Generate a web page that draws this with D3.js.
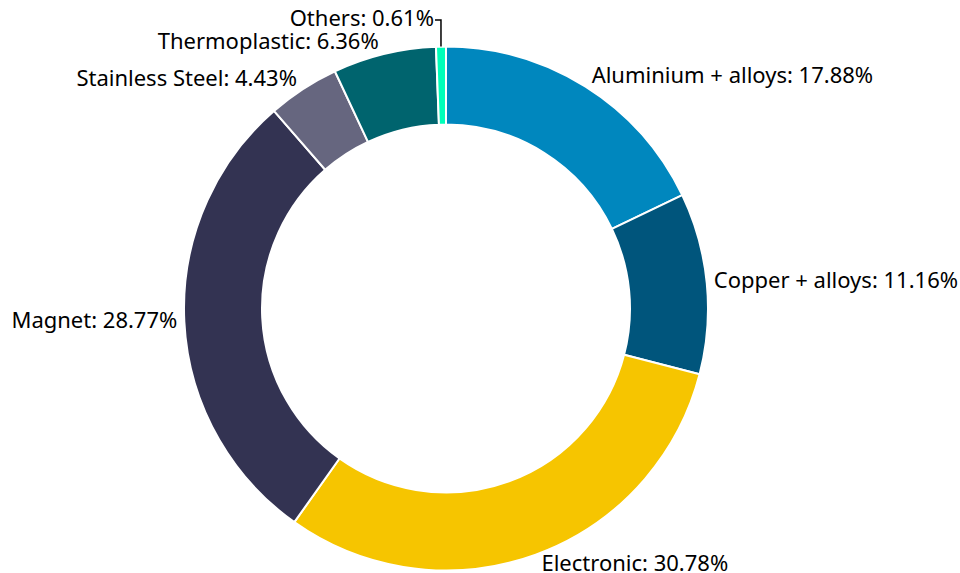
<!DOCTYPE html>
<html><head><meta charset="utf-8">
<script src="https://cdn.jsdelivr.net/npm/d3@7/dist/d3.min.js"></script>
<style>html,body{margin:0;padding:0;background:#fff;}svg{display:block;}</style>
</head><body>
<script>
const categories = ["Aluminium + alloys","Copper + alloys","Electronic","Magnet","Stainless Steel","Thermoplastic","Others"];
const values = [17.88, 11.16, 30.78, 28.77, 4.43, 6.36, 0.61];
const colors = ["#0087be","#00557c","#f6c500","#333352","#66667f","#00646e","#00ffb9"];

const W = 960, H = 573;
const cx = 446, cy = 308.5, rOuter = 262, rInner = 184;
const labelRX = 264, labelRY = 273, labelGap = 5, labelDY = -1.8;
const svg = d3.select("body").append("svg").attr("width", W).attr("height", H);
const g = svg.append("g").attr("transform", `translate(${cx},${cy})`);

const data = categories.map((c, i) => ({name: c, value: values[i], color: colors[i]}));
const pie = d3.pie().value(d => d.value).sort(null);
const arcs = pie(data);
const arc = d3.arc().innerRadius(rInner).outerRadius(rOuter);

g.selectAll("path.slice").data(arcs).join("path")
  .attr("class","slice")
  .attr("d", arc)
  .attr("fill", d => d.data.color)
  .attr("stroke", "#fff").attr("stroke-width", 2).attr("stroke-linejoin","round");

const labels = arcs.map(a => {
  const m = (a.startAngle + a.endAngle) / 2;
  const s = Math.sin(m), c = Math.cos(m);
  const right = s >= 0;
  const y = -labelRY * c + labelDY;
  return {a, m, right, px: rOuter * s, py: -rOuter * c,
          x: labelRX * s + (right ? labelGap : -labelGap), y, y0: y,
          text: `${a.data.name}: ${d3.format(".2f")(a.data.value)}%`};
});
const minGap = 23;
const left = labels.filter(l => !l.right).sort((p, q) => q.y - p.y);
for (let i = 1; i < left.length; i++) {
  if (left[i-1].y - left[i].y < minGap) left[i].y = left[i-1].y - minGap;
}
const right = labels.filter(l => l.right).sort((p, q) => p.y - q.y);
for (let i = 1; i < right.length; i++) {
  if (right[i].y - right[i-1].y < minGap) right[i].y = right[i-1].y + minGap;
}

labels.forEach(l => {
  const shifted = Math.abs(l.y - l.y0) > 0.5;
  let tx = l.x;
  if (shifted) {
    tx = l.px + (l.right ? 7 : -7);
    const ly = l.y + 1.5;
    g.append("polyline")
      .attr("points", `${l.px},${l.py} ${l.px},${ly} ${tx + (l.right ? -1 : 1)},${ly}`)
      .attr("fill","none").attr("stroke","#000").attr("stroke-width",1.5);
  }
  g.append("text")
    .attr("x", tx).attr("y", l.y)
    .attr("dy", "0.35em")
    .attr("text-anchor", l.right ? "start" : "end")
    .attr("font-family", "'Noto Sans', 'Open Sans', sans-serif")
    .attr("font-size", 22)
    .attr("fill", "#000")
    .text(l.text);
});
</script>
</body></html>
